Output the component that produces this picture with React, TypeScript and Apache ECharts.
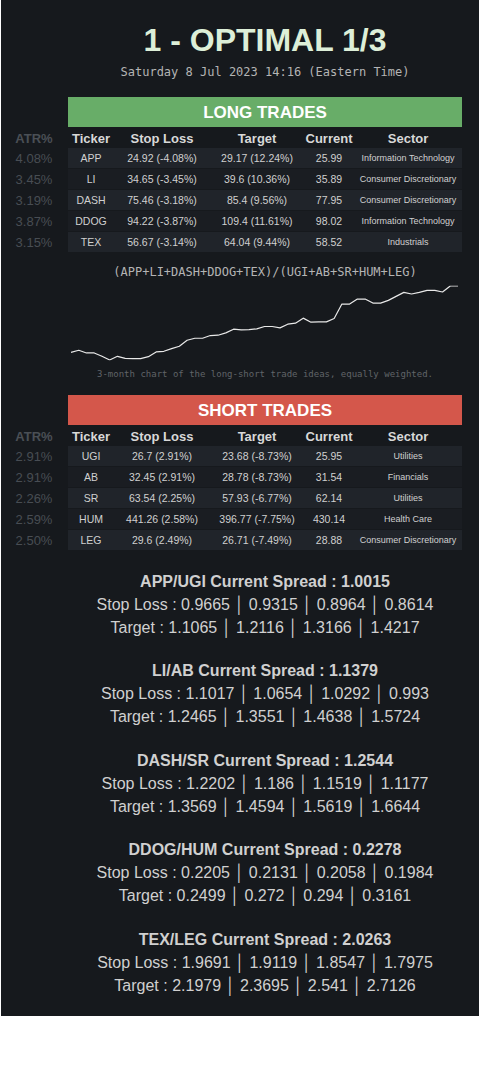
import { useEffect, useRef } from "react";
import * as echarts from "echarts";

const title = "1 - OPTIMAL 1/3";
const subtitle = "Saturday 8 Jul 2023 14:16 (Eastern Time)";
const headers = ["Ticker", "Stop Loss", "Target", "Current", "Sector"];

const longAtr = ["4.08%", "3.45%", "3.19%", "3.87%", "3.15%"];
const longTickers = ["APP", "LI", "DASH", "DDOG", "TEX"];
const longStops = ["24.92 (-4.08%)", "34.65 (-3.45%)", "75.46 (-3.18%)", "94.22 (-3.87%)", "56.67 (-3.14%)"];
const longTargets = ["29.17 (12.24%)", "39.6 (10.36%)", "85.4 (9.56%)", "109.4 (11.61%)", "64.04 (9.44%)"];
const longCurrent = ["25.99", "35.89", "77.95", "98.02", "58.52"];
const longSectors = ["Information Technology", "Consumer Discretionary", "Consumer Discretionary", "Information Technology", "Industrials"];

const shortAtr = ["2.91%", "2.91%", "2.26%", "2.59%", "2.50%"];
const shortTickers = ["UGI", "AB", "SR", "HUM", "LEG"];
const shortStops = ["26.7 (2.91%)", "32.45 (2.91%)", "63.54 (2.25%)", "441.26 (2.58%)", "29.6 (2.49%)"];
const shortTargets = ["23.68 (-8.73%)", "28.78 (-8.73%)", "57.93 (-6.77%)", "396.77 (-7.75%)", "26.71 (-7.49%)"];
const shortCurrent = ["25.95", "31.54", "62.14", "430.14", "28.88"];
const shortSectors = ["Utilities", "Financials", "Utilities", "Health Care", "Consumer Discretionary"];

const chartTitle = "(APP+LI+DASH+DDOG+TEX)/(UGI+AB+SR+HUM+LEG)";
const chartCaption = "3-month chart of the long-short trade ideas, equally weighted.";
const spreadValues = [
  23, 29, 21, 21, 11, 0, 11, 5, 4, 4, 10, 24, 26, 34, 41, 59, 65, 65, 73, 74, 81, 92, 90, 91, 93, 100,
  100, 96, 107, 110, 125, 113, 114, 114, 124, 167, 167, 182, 182, 170, 170, 178, 190, 202, 197, 202,
  208, 208, 203, 221, 221,
];

const pairNames = ["APP/UGI", "LI/AB", "DASH/SR", "DDOG/HUM", "TEX/LEG"];
const pairCurrent = ["1.0015", "1.1379", "1.2544", "0.2278", "2.0263"];
const pairStops = [
  ["0.9665", "0.9315", "0.8964", "0.8614"],
  ["1.1017", "1.0654", "1.0292", "0.993"],
  ["1.2202", "1.186", "1.1519", "1.1177"],
  ["0.2205", "0.2131", "0.2058", "0.1984"],
  ["1.9691", "1.9119", "1.8547", "1.7975"],
];
const pairTargets = [
  ["1.1065", "1.2116", "1.3166", "1.4217"],
  ["1.2465", "1.3551", "1.4638", "1.5724"],
  ["1.3569", "1.4594", "1.5619", "1.6644"],
  ["0.2499", "0.272", "0.294", "0.3161"],
  ["2.1979", "2.3695", "2.541", "2.7126"],
];

const SANS = "'Liberation Sans', Arial, sans-serif";
const MONO = "'DejaVu Sans Mono', monospace";
const colX = [91, 162, 257, 329, 408];

const txt = (x: number, y: number, text: string, fontSize: number, fill: string, extra: any = {}) => ({
  type: "text",
  x,
  y,
  style: { text, fontSize, fill, fontFamily: SANS, align: "center", verticalAlign: "middle", ...extra },
});

const table = (
  top: number,
  label: string,
  color: string,
  atr: string[],
  cols: string[][],
) => {
  const els: any[] = [
    { type: "rect", shape: { x: 68, y: top, width: 394, height: 30 }, style: { fill: color } },
    txt(265, top + 15, label, 17, "#ffffff", { fontWeight: "bold" }),
    txt(34, top + 41, "ATR%", 13, "#4a4f55", { fontWeight: "bold" }),
  ];
  headers.forEach((h, i) => els.push(txt(colX[i], top + 41, h, 13, "#d8d8d8", { fontWeight: "bold" })));
  atr.forEach((a, r) => {
    const y = top + 51 + r * 21;
    els.push({
      type: "rect",
      shape: { x: 68, y, width: 394, height: 20 },
      style: { fill: r % 2 === 0 ? "#20242a" : "#1a1d22" },
    });
    els.push(txt(34, y + 10, a, 13, "#484d53"));
    cols.forEach((c, i) => els.push(txt(colX[i], y + 10, c[r], i === 4 ? 9 : 10.5, "#d0d0d0")));
  });
  return els;
};

const App = () => {
  const ref = useRef<HTMLDivElement>(null);

  useEffect(() => {
    if (!ref.current) return;
    document.body.style.margin = "0";
    const chart = echarts.init(ref.current, null, { renderer: "svg" });

    const spreads: any[] = [];
    pairNames.forEach((p, i) => {
      const y = 581 + i * 89.5;
      spreads.push(txt(265, y, `${p} Current Spread : ${pairCurrent[i]}`, 16, "#d0d0d0", { fontWeight: "bold" }));
      spreads.push(txt(265, y + 23, `Stop Loss : ${pairStops[i].join(" │ ")}`, 16, "#d0d0d0"));
      spreads.push(txt(265, y + 46, `Target : ${pairTargets[i].join(" │ ")}`, 16, "#d0d0d0"));
    });

    chart.setOption({
      animation: false,
      backgroundColor: "#ffffff",
      grid: { left: 71, top: 286, width: 387, height: 74 },
      xAxis: { type: "category", data: spreadValues.map((_, i) => i), show: false, boundaryGap: false },
      yAxis: { type: "value", min: 0, max: 221, show: false },
      series: [
        {
          type: "line",
          data: spreadValues,
          showSymbol: false,
          lineStyle: { color: "#e8e8e8", width: 1.2 },
          z: 10,
        },
      ],
      graphic: [
        { type: "rect", z: -10, shape: { x: 1, y: 0, width: 478, height: 1016 }, style: { fill: "#16191d" } },
        txt(265, 40, title, 32, "#ddefd8", { fontWeight: "bold" }),
        txt(265, 72, subtitle, 12, "#b4b4b4", { fontFamily: MONO }),
        ...table(97, "LONG TRADES", "#68ad68", longAtr, [longTickers, longStops, longTargets, longCurrent, longSectors]),
        txt(265, 272, chartTitle, 12, "#b4b4b4", { fontFamily: MONO }),
        txt(265, 374, chartCaption, 9, "#606468", { fontFamily: MONO }),
        ...table(395, "SHORT TRADES", "#d4574b", shortAtr, [shortTickers, shortStops, shortTargets, shortCurrent, shortSectors]),
        ...spreads,
      ],
    });

    return () => chart.dispose();
  }, []);

  return <div ref={ref} style={{ width: 480, height: 1068 }} />;
};

export default App;
